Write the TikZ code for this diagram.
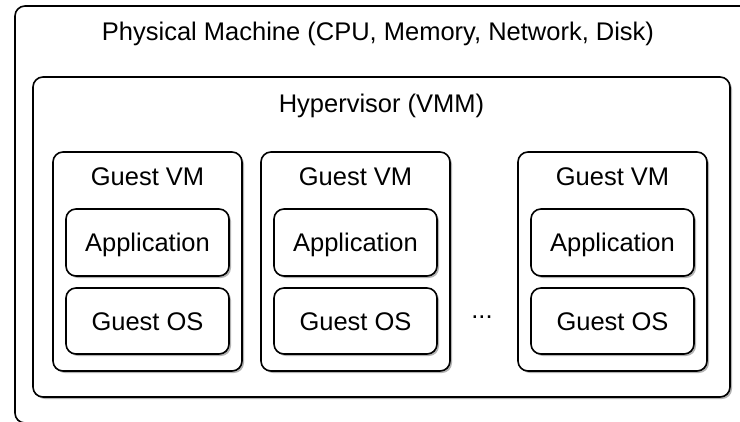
\documentclass[tikz,border=0pt]{standalone}
\usepackage{fontspec}
\setmainfont{Liberation Sans}
\usetikzlibrary{shadows}

\tikzset{
  box/.style={draw, line width=1.6pt, rounded corners=10pt, fill=white,
    drop shadow={shadow xshift=2pt, shadow yshift=-2pt, opacity=0.3, fill=black}},
  layer/.style={box, inner sep=0pt, text height=18pt, text depth=0pt,
    minimum width=163pt},
  vmbox/.style={box, inner sep=0pt, minimum width=189pt, minimum height=219pt},
  title/.style={anchor=base, inner sep=0pt}
}

\begin{document}
\begin{tikzpicture}[x=1pt,y=-1pt,font=\fontsize{25.5}{30}\selectfont]
        \useasboundingbox (0,0) rectangle (740,421);
        \clip (0,0) rectangle (740,421);

        % machine and hypervisor
        \draw [box] (15,6) rectangle (770,423);
        \node [title] (machine) at (378,40) {Physical Machine (CPU, Memory, Network, Disk)};
        \draw [box] (33,77) rectangle (730,397);
        \node [title] (hyper) at (381.5,112) {Hypervisor (VMM)};

        % guest vms
        \node [vmbox] (vm1) at (147.5,261.5) {};
        \node [title] (vmtitle1) at (147.5,185) {Guest VM};
        \node [layer, minimum height=67pt] (app1) at (147.5,242.5) {Application};
        \node [layer, minimum height=66pt] (os1) at (147.5,321) {Guest OS};

        \node [vmbox] (vm2) at (355.5,261.5) {};
        \node [title] (vmtitle2) at (355.5,185) {Guest VM};
        \node [layer, minimum height=67pt] (app2) at (355.5,242.5) {Application};
        \node [layer, minimum height=66pt] (os2) at (355.5,321) {Guest OS};

        \node [vmbox] (vm3) at (612.5,261.5) {};
        \node [title] (vmtitle3) at (612.5,185) {Guest VM};
        \node [layer, minimum height=67pt] (app3) at (612.5,242.5) {Application};
        \node [layer, minimum height=66pt] (os3) at (612.5,321) {Guest OS};

        \node [title] (dots) at (482,318) {...};

    \end{tikzpicture}
\end{document}
